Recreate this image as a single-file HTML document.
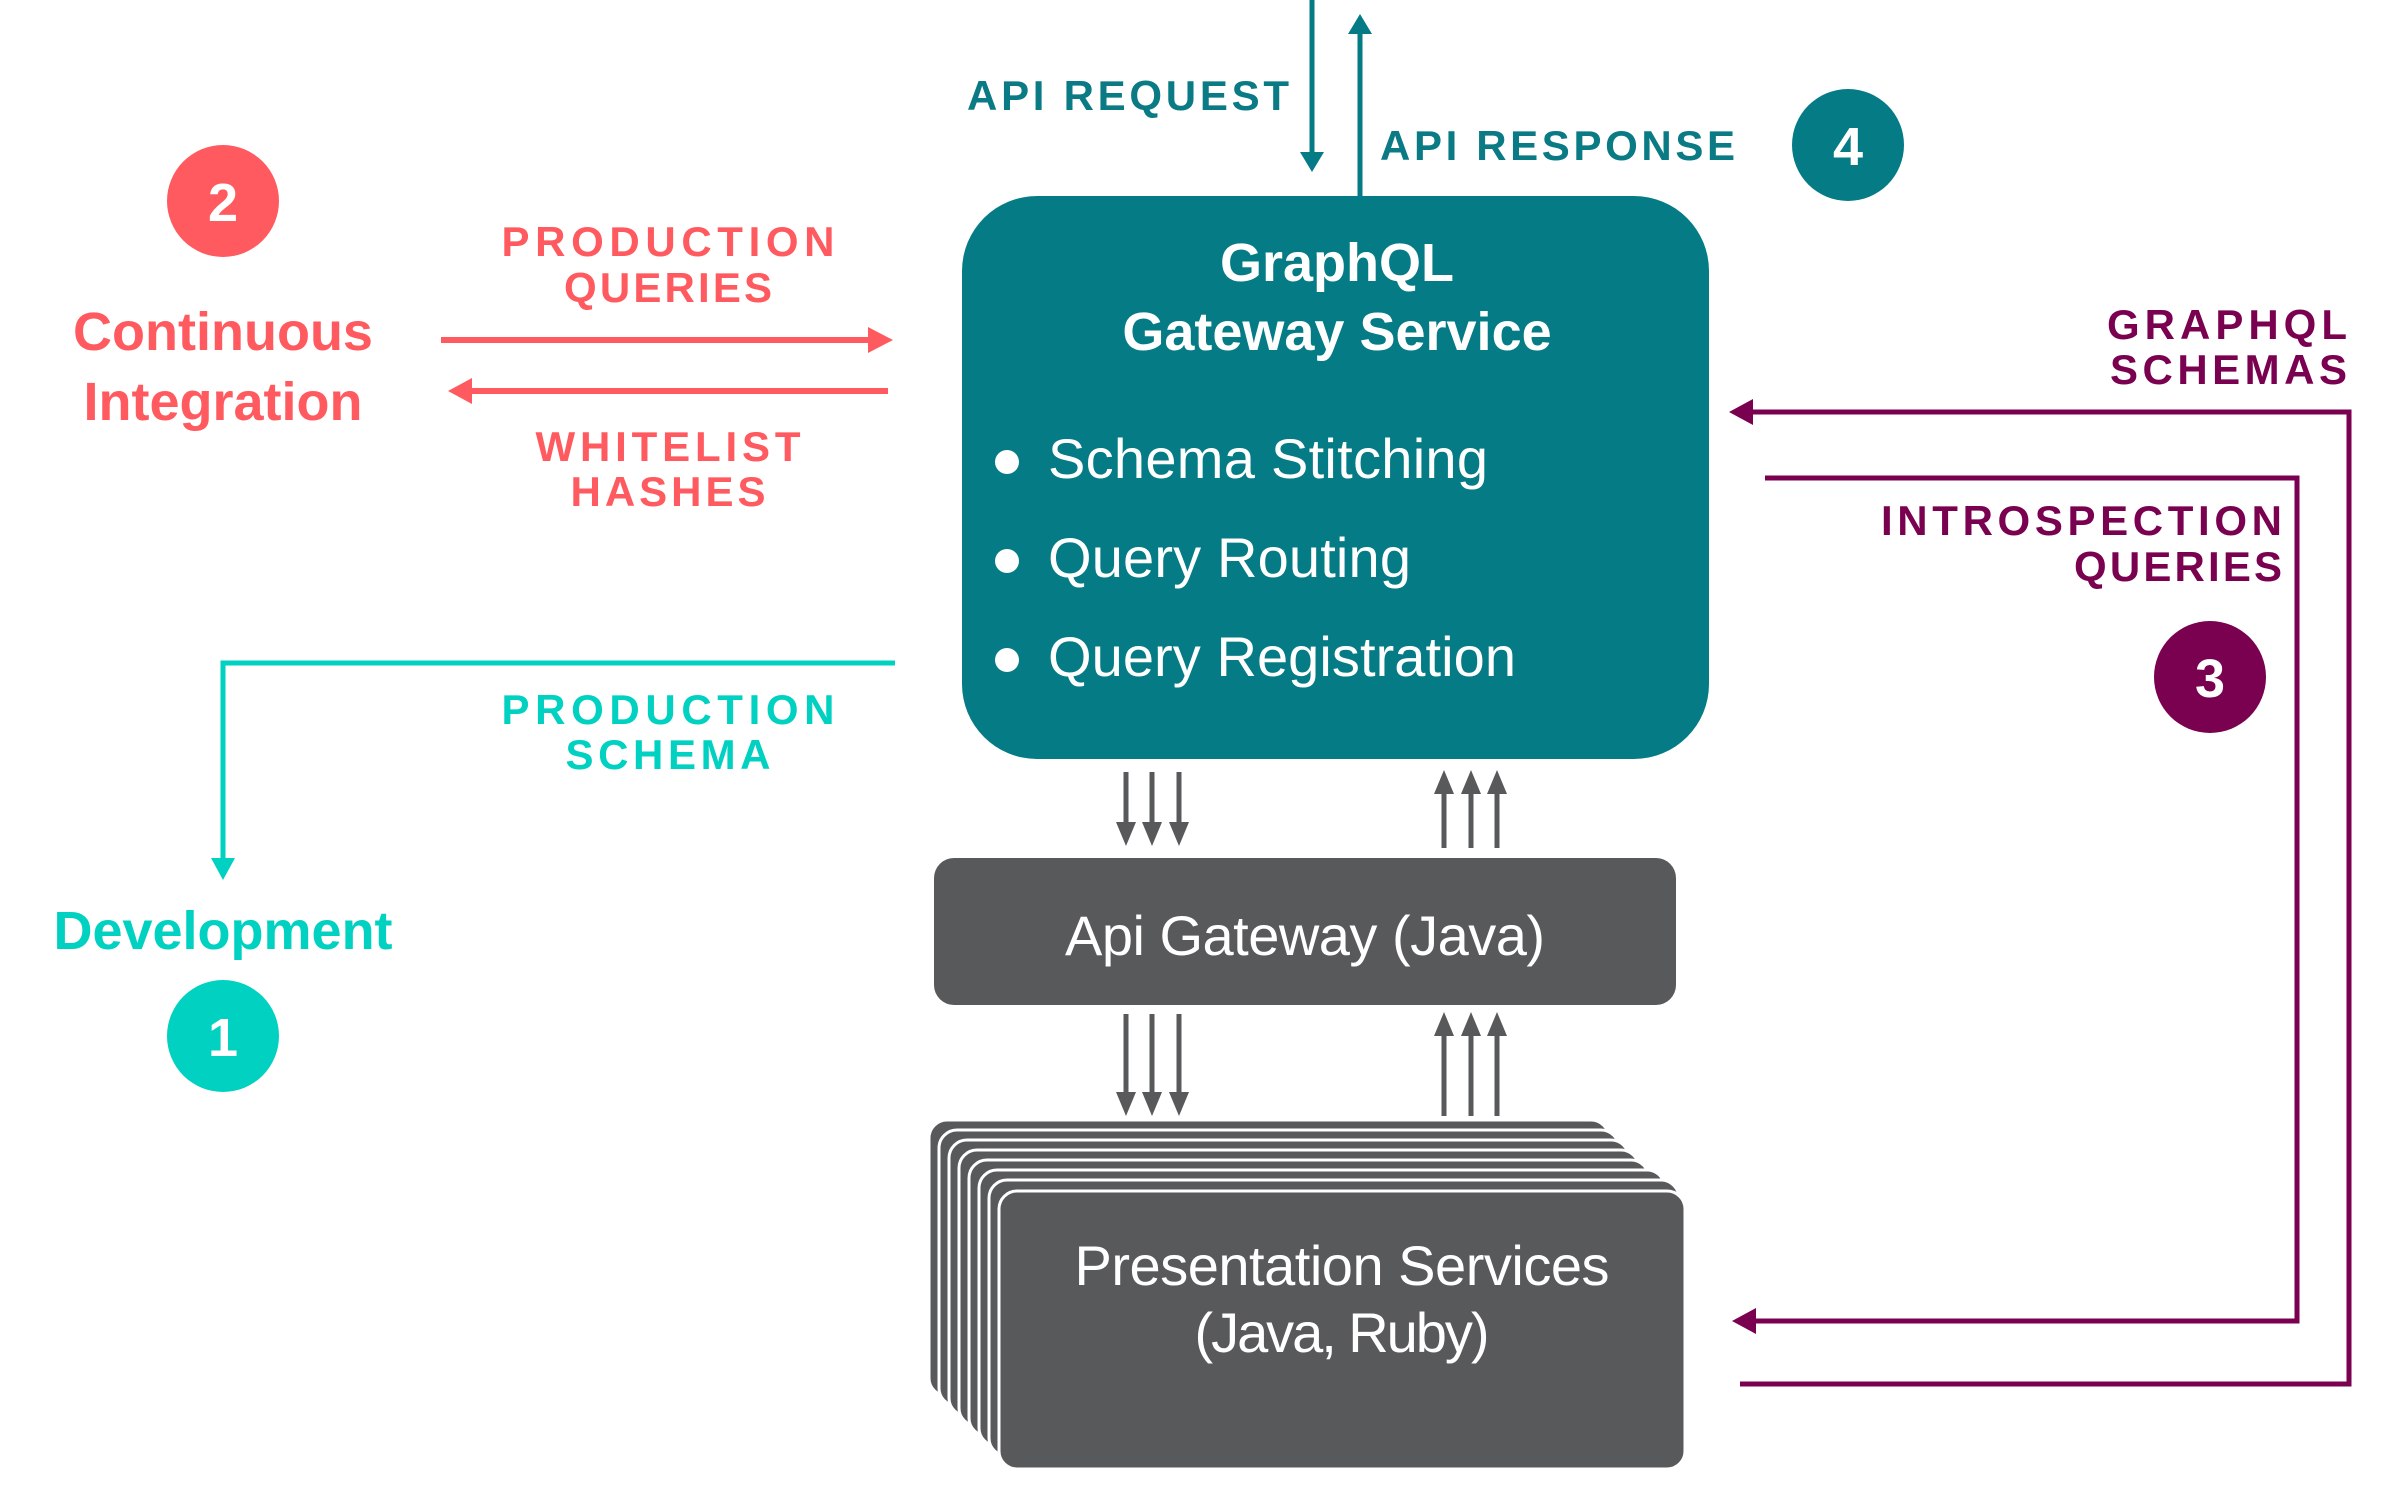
<!DOCTYPE html>
<html><head><meta charset="utf-8"><style>
html,body{margin:0;padding:0;background:#fff;}
svg{display:block;}
text{font-family:"Liberation Sans",sans-serif;}
.lab{font-weight:bold;font-size:42px;}
.big{font-weight:bold;font-size:54px;}
.lt{font-size:56px;fill:#fff;}
</style></head><body>
<svg width="2402" height="1492" viewBox="0 0 2402 1492" xmlns="http://www.w3.org/2000/svg">
<defs>
<marker id="ar" markerWidth="10" markerHeight="10" refX="9" refY="5" orient="auto" markerUnits="userSpaceOnUse" viewBox="0 0 10 10"><path d="M0,0 L10,5 L0,10z" fill="context-stroke"/></marker>
</defs>

<!-- Continuous Integration -->
<circle cx="223" cy="201" r="56" fill="#ff5a5f"/>
<text x="223" y="221" text-anchor="middle" fill="#fff" style="font-weight:bold;font-size:54px">2</text>
<text class="big" x="223" y="350" text-anchor="middle" fill="#ff5a5f">Continuous</text>
<text class="big" x="223" y="420" text-anchor="middle" fill="#ff5a5f">Integration</text>

<text class="lab" x="668" y="256" text-anchor="middle" fill="#ff5a5f" textLength="333">PRODUCTION</text>
<text class="lab" x="668" y="302" text-anchor="middle" fill="#ff5a5f" textLength="208">QUERIES</text>
<line x1="441" y1="340" x2="870" y2="340" stroke="#ff5a5f" stroke-width="6"/>
<path d="M868,327 L893,340 L868,353z" fill="#ff5a5f"/>
<line x1="470" y1="391" x2="888" y2="391" stroke="#ff5a5f" stroke-width="6"/>
<path d="M472,378 L448,391 L472,404z" fill="#ff5a5f"/>
<text class="lab" x="668" y="461" text-anchor="middle" fill="#ff5a5f" textLength="265">WHITELIST</text>
<text class="lab" x="668" y="506" text-anchor="middle" fill="#ff5a5f" textLength="195">HASHES</text>

<!-- Production schema -->
<polyline points="895,663 223,663 223,860" fill="none" stroke="#00d1c1" stroke-width="5"/>
<path d="M211,858 L223,880 L235,858z" fill="#00d1c1"/>
<text class="lab" x="668" y="724" text-anchor="middle" fill="#00d1c1" textLength="333">PRODUCTION</text>
<text class="lab" x="668" y="769" text-anchor="middle" fill="#00d1c1" textLength="205">SCHEMA</text>
<text class="big" x="223" y="949" text-anchor="middle" fill="#00d1c1">Development</text>
<circle cx="223" cy="1036" r="56" fill="#00d1c1"/>
<text x="223" y="1056" text-anchor="middle" fill="#fff" style="font-weight:bold;font-size:54px">1</text>

<!-- API request/response -->
<line x1="1312" y1="0" x2="1312" y2="155" stroke="#047b85" stroke-width="5"/>
<path d="M1300,152 L1312,172 L1324,152z" fill="#047b85"/>
<line x1="1360" y1="196" x2="1360" y2="30" stroke="#047b85" stroke-width="5"/>
<path d="M1348,34 L1360,14 L1372,34z" fill="#047b85"/>
<text class="lab" x="967" y="110" fill="#0a7a84" textLength="322">API REQUEST</text>
<text class="lab" x="1380" y="160" fill="#0a7a84" textLength="355">API RESPONSE</text>
<circle cx="1848" cy="145" r="56" fill="#047b85"/>
<text x="1848" y="165" text-anchor="middle" fill="#fff" style="font-weight:bold;font-size:54px">4</text>

<!-- GraphQL box -->
<rect x="962" y="196" width="747" height="563" rx="75" fill="#047b85"/>
<text class="big" x="1337" y="281" text-anchor="middle" fill="#fff">GraphQL</text>
<text class="big" x="1337" y="350" text-anchor="middle" fill="#fff">Gateway Service</text>
<circle cx="1007" cy="462" r="12" fill="#fff"/>
<circle cx="1007" cy="561" r="12" fill="#fff"/>
<circle cx="1007" cy="660" r="12" fill="#fff"/>
<text class="lt" x="1048" y="478" textLength="440">Schema Stitching</text>
<text class="lt" x="1048" y="577" textLength="363">Query Routing</text>
<text class="lt" x="1048" y="676" textLength="468">Query Registration</text>

<!-- gray arrows -->
<g stroke="#57595b" stroke-width="5" fill="#57595b">
<line x1="1126" y1="772" x2="1126" y2="830"/><line x1="1152" y1="772" x2="1152" y2="830"/><line x1="1179" y1="772" x2="1179" y2="830"/>
<line x1="1444" y1="790" x2="1444" y2="848"/><line x1="1471" y1="790" x2="1471" y2="848"/><line x1="1497" y1="790" x2="1497" y2="848"/>
<line x1="1126" y1="1014" x2="1126" y2="1100"/><line x1="1152" y1="1014" x2="1152" y2="1100"/><line x1="1179" y1="1014" x2="1179" y2="1100"/>
<line x1="1444" y1="1030" x2="1444" y2="1116"/><line x1="1471" y1="1030" x2="1471" y2="1116"/><line x1="1497" y1="1030" x2="1497" y2="1116"/>
</g>
<g fill="#57595b">
<path d="M1116,822 L1126,846 L1136,822z"/><path d="M1142,822 L1152,846 L1162,822z"/><path d="M1169,822 L1179,846 L1189,822z"/>
<path d="M1434,794 L1444,770 L1454,794z"/><path d="M1461,794 L1471,770 L1481,794z"/><path d="M1487,794 L1497,770 L1507,794z"/>
<path d="M1116,1092 L1126,1116 L1136,1092z"/><path d="M1142,1092 L1152,1116 L1162,1092z"/><path d="M1169,1092 L1179,1116 L1189,1092z"/>
<path d="M1434,1036 L1444,1012 L1454,1036z"/><path d="M1461,1036 L1471,1012 L1481,1036z"/><path d="M1487,1036 L1497,1012 L1507,1036z"/>
</g>

<!-- Api Gateway -->
<rect x="934" y="858" width="742" height="147" rx="20" fill="#57595b"/>
<text class="lt" x="1305" y="955" text-anchor="middle" textLength="480">Api Gateway (Java)</text>

<!-- stack -->
<g fill="#57595b" stroke="#fff" stroke-width="3">
<rect x="929" y="1120" width="680" height="276" rx="18"/>
<rect x="939" y="1130" width="680" height="276" rx="18"/>
<rect x="949" y="1140" width="680" height="276" rx="18"/>
<rect x="959" y="1150" width="680" height="276" rx="18"/>
<rect x="969" y="1160" width="680" height="276" rx="18"/>
<rect x="979" y="1170" width="686" height="276" rx="18"/>
<rect x="989" y="1180" width="690" height="276" rx="18"/>
<rect x="999" y="1191" width="686" height="278" rx="18"/>
</g>
<text class="lt" x="1342" y="1285" text-anchor="middle" textLength="535">Presentation Services</text>
<text class="lt" x="1342" y="1352" text-anchor="middle" textLength="295">(Java, Ruby)</text>

<!-- purple -->
<polyline points="1745,412 2349,412 2349,1384 1740,1384" fill="none" stroke="#7a0050" stroke-width="5"/>
<path d="M1753,399 L1729,412 L1753,425z" fill="#7a0050"/>
<polyline points="1765,478 2297,478 2297,1321 1752,1321" fill="none" stroke="#7a0050" stroke-width="5"/>
<path d="M1756,1308 L1732,1321 L1756,1334z" fill="#7a0050"/>
<text class="lab" x="2347" y="339" text-anchor="end" fill="#7a0050" textLength="240">GRAPHQL</text>
<text class="lab" x="2347" y="384" text-anchor="end" fill="#7a0050" textLength="237">SCHEMAS</text>
<text class="lab" x="2282" y="535" text-anchor="end" fill="#7a0050" textLength="401">INTROSPECTION</text>
<text class="lab" x="2282" y="581" text-anchor="end" fill="#7a0050" textLength="208">QUERIES</text>
<circle cx="2210" cy="677" r="56" fill="#7a0050"/>
<text x="2210" y="697" text-anchor="middle" fill="#fff" style="font-weight:bold;font-size:54px">3</text>
</svg>
</body></html>
